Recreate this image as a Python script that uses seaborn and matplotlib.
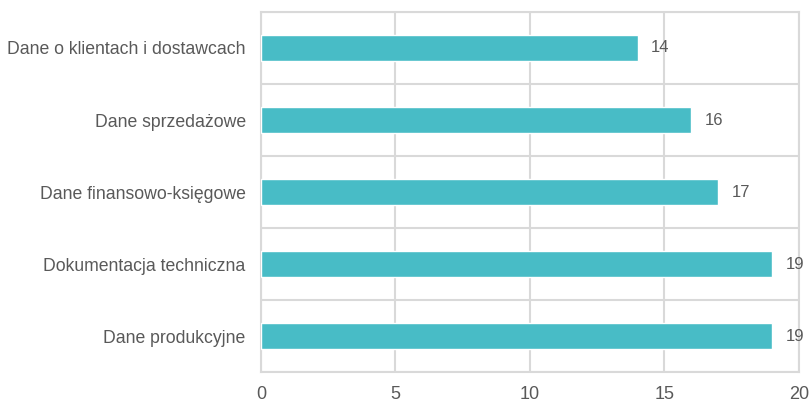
import numpy as np
import pandas as pd
import matplotlib
matplotlib.use('Agg')
import matplotlib.pyplot as plt
import seaborn as sns

categories = ['Dane o klientach i dostawcach', 'Dane sprzedażowe', 'Dane finansowo-księgowe',
              'Dokumentacja techniczna', 'Dane produkcyjne']
values = [14, 16, 17, 19, 19]
x_ticks = [0, 5, 10, 15, 20]

sns.set_style('white')
plt.rcParams['font.family'] = ['Liberation Sans', 'DejaVu Sans']

df = pd.DataFrame({'category': categories, 'value': values})

fig = plt.figure(figsize=(8.11, 4.04), dpi=100)
ax = fig.add_axes([0.3218, 0.0792, 0.6634, 0.8911])

sns.barplot(data=df, x='value', y='category', color='#48BCC6', width=0.36,
            saturation=1, ax=ax, zorder=3)

ax.set_xlim(0, 20)
ax.set_ylim(len(categories) - 0.5, -0.5)
ax.set_xticks(x_ticks)
ax.set_yticks(np.arange(-0.5, len(categories), 1), minor=True)
ax.grid(True, axis='x', which='major', color='#d9d9d9', linewidth=1.5, zorder=0)
ax.grid(True, axis='y', which='minor', color='#d9d9d9', linewidth=1.5, zorder=0)
ax.grid(False, axis='y', which='major')
for s in ax.spines.values():
    s.set_color('#d9d9d9')
    s.set_linewidth(1.5)

ax.tick_params(axis='y', which='both', length=0, labelsize=12.7, labelcolor='#595959', pad=11)
ax.tick_params(axis='x', length=0, labelsize=13, labelcolor='#595959', pad=10)
ax.set_xlabel('')
ax.set_ylabel('')

for i, v in enumerate(values):
    ax.text(v + 0.5, i, str(v), va='center', ha='left', fontsize=12, color='#595959')

fig.savefig('out.png', dpi=100)
